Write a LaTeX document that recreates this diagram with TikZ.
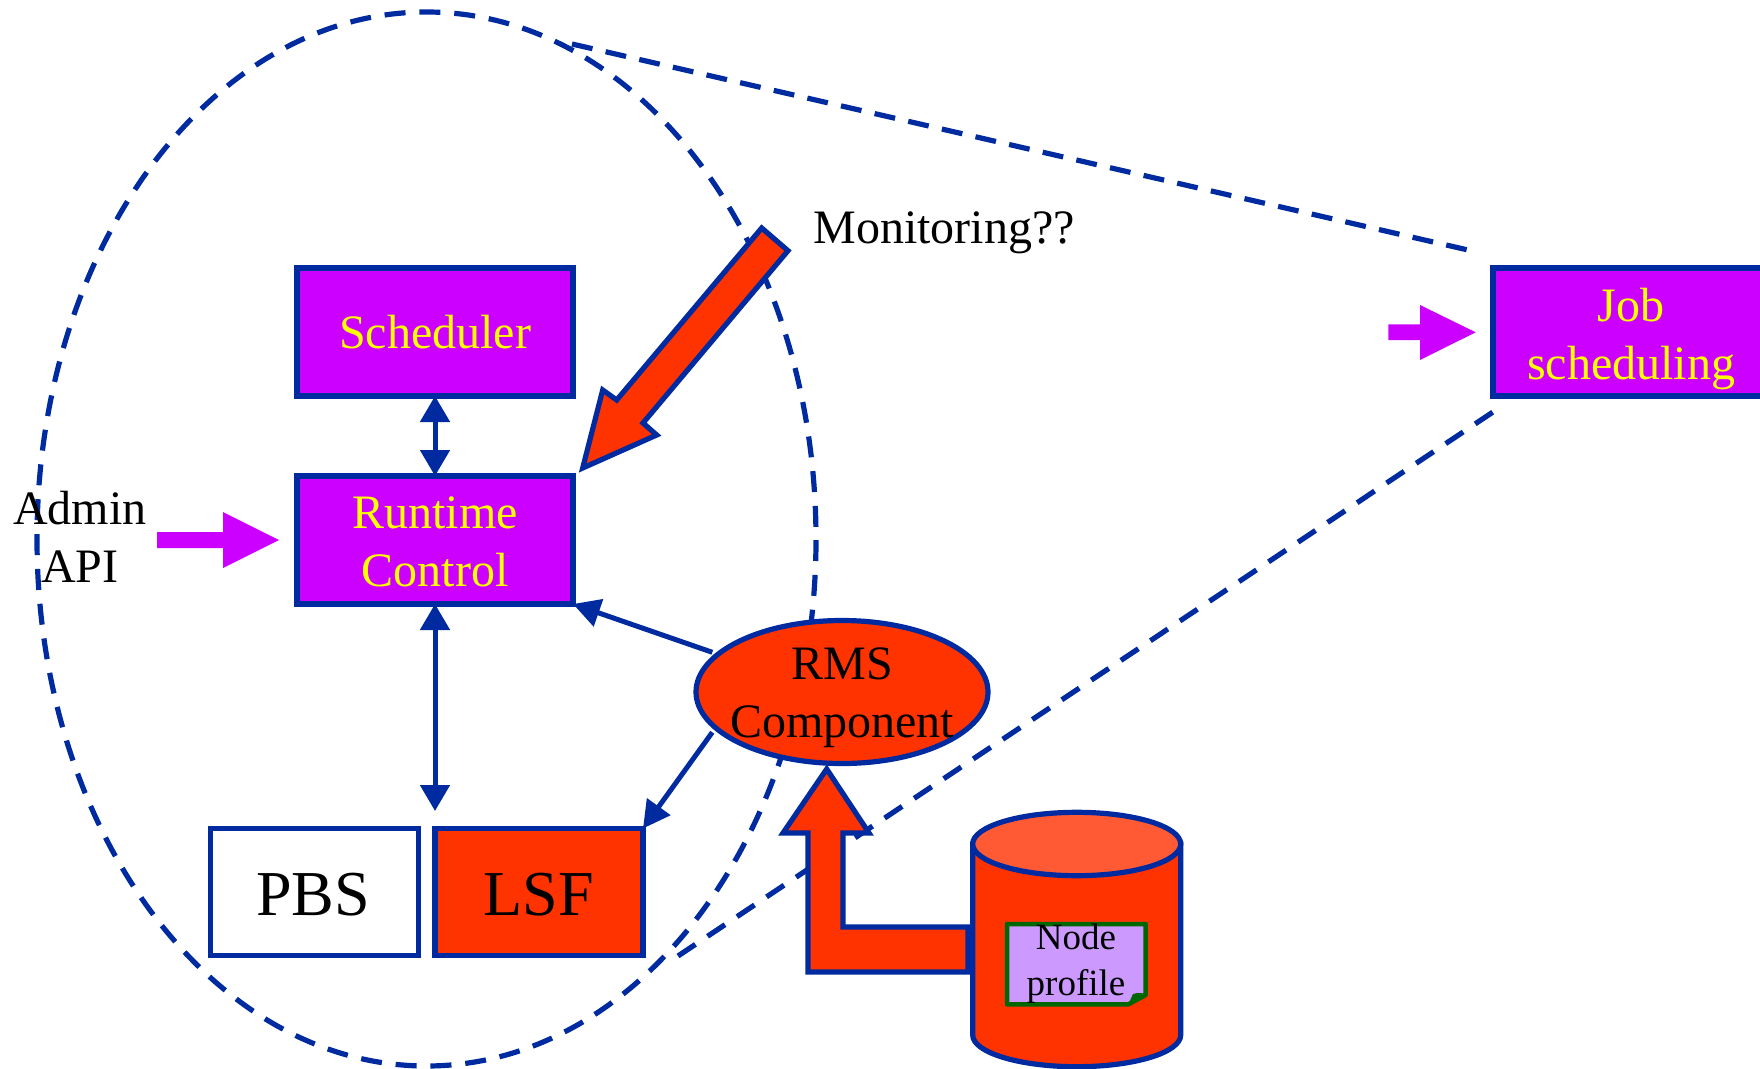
\documentclass[tikz,border=0pt]{standalone}
\usepackage{fontspec}
\setmainfont{Liberation Serif}
\usetikzlibrary{arrows.meta,shapes.geometric}
\definecolor{rblue}{HTML}{002AA0}
\definecolor{rpurple}{HTML}{CC00FF}
\definecolor{rred}{HTML}{FF3300}
\definecolor{rtop}{HTML}{FF5A33}
\definecolor{rnote}{HTML}{CC99FF}
\definecolor{rgreen}{HTML}{006600}
\definecolor{ryellow}{HTML}{FFFF00}
\tikzset{
  dashline/.style={draw=rblue,line width=5.2pt},
  boxbase/.style={draw=rblue,line width=5.2pt,rectangle,outer sep=0pt,inner sep=0pt},
  purplebox/.style={boxbase,fill=rpurple,minimum width=276pt,minimum height=128pt},
  sysbox/.style={boxbase,minimum width=208pt,minimum height=127pt},
  bigarrow/.style={draw=rblue,fill=rred,line width=5.2pt,miter limit=10},
  pinkarrow/.style={fill=rpurple,draw=none},
  conn/.style={draw=rblue,line width=5pt,-{Triangle[length=27pt,width=28pt]}},
  dconn/.style={draw=rblue,line width=5pt,{Triangle[length=26pt,width=29pt]}-{Triangle[length=26pt,width=29pt]}},
  plain/.style={font=\fontsize{48}{58}\selectfont,align=center,inner sep=0pt},
  yellowtext/.style={plain,text=ryellow},
  bigtext/.style={font=\fontsize{64}{70}\selectfont,inner sep=0pt}
}
\begin{document}
\begin{tikzpicture}[x=1pt,y=-1pt]
\useasboundingbox (0,0) rectangle (1760,1068);
% dashed focus outline
\coordinate (lensA) at (572,44);
\coordinate (lensB) at (1468,250);
\coordinate (lensC) at (1493,412);
\coordinate (lensD) at (678,956);
\draw[dashline,dash pattern=on 21pt off 13.9pt,dash phase=33.9pt] (426.5,539) ellipse [x radius=389.5,y radius=527];
\draw[dashline,dash pattern=on 21pt off 13.5pt] (lensA) -- (lensB);
\draw[dashline,dash pattern=on 21pt off 14.5pt] (lensD) -- (lensC);
% boxes
\node[purplebox] (sched) at (435,332) {};
\node[yellowtext] (schedtext) at (sched) {Scheduler};
\node[purplebox] (runtime) at (435,540) {};
\node[yellowtext] (runtimetext) at (435,541.5) {Runtime\\Control};
\node[purplebox] (job) at (1631,332) {};
\node[yellowtext] (jobtext) at (1631,339) {Job\\scheduling};
\node[sysbox,fill=white] (pbs) at (314.5,892) {};
\node[bigtext] (pbstext) at (313,894.5) {PBS};
\node[sysbox,fill=rred] (lsf) at (539,892) {};
\node[bigtext] (lsftext) at (539,894.5) {LSF};
% cylinder
\draw[bigarrow] (972.7,844) -- (972.7,1035) arc[start angle=180,end angle=0,x radius=104,y radius=31.7] -- (1180.7,844) -- cycle;
% up arrow
\draw[bigarrow] (968,972) -- (808,972) -- (808,833) -- (783,833) -- (826.7,769) -- (869,833) -- (843,833) -- (843,927) -- (968,927) -- cycle;
\draw[draw=rblue,fill=rtop,line width=5.2pt] (1076.7,844) ellipse [x radius=104,y radius=31.7];
% note
\draw[draw=rgreen,fill=rnote,line width=4.5pt,line join=round] (1007,924) -- (1145.7,924) -- (1145.7,995) -- (1128.3,1004.3) -- (1007,1004.3) -- cycle;
\fill[rgreen] (1128.3,1004.3) -- (1133,994) .. controls (1138,992) and (1142,994) .. (1145.7,993) -- (1145.7,995) -- cycle;
\node[inner sep=0pt,align=center,font=\fontsize{37}{46}\selectfont] (profile) at (1076,964) {Node\\profile};
% RMS
\node[ellipse,draw=rblue,fill=rred,line width=5.2pt,minimum width=292pt,minimum height=143pt,inner sep=0pt,outer sep=0pt] (rms) at (842,692) {};
\node[plain] (rmstext) at (842,698) {RMS\\Component};
% connectors
\coordinate (pbstop) at (435,811);
\coordinate (rmsA) at (712.3,652.3);
\coordinate (rmsB) at (712.3,732.3);
\draw[dconn] (sched.south) -- (runtime.north);
\draw[dconn] (runtime.south) -- (pbstop);
\draw[conn] (rmsA) -- (runtime.south east);
\draw[conn] (rmsB) -- (lsf.north east);
% monitoring arrow
\draw[bigarrow] (761.7,228) -- (788,250.7) -- (643,423) -- (656.7,435) -- (582.7,468) -- (602.7,390) -- (616.7,400) -- cycle;
% magenta arrows
\fill[pinkarrow] (157,532) -- (223,532) -- (223,512) -- (279,540) -- (223,568) -- (223,548) -- (157,548) -- cycle;
\fill[pinkarrow] (1388.3,324.3) -- (1420,324.3) -- (1420,305) -- (1475.7,332.3) -- (1420,360) -- (1420,340) -- (1388.3,340) -- cycle;
% labels
\node[plain] (admin) at (80,537) {Admin\\API};
\node[plain] (mon) at (944,233) {Monitoring??};
\end{tikzpicture}
\end{document}
